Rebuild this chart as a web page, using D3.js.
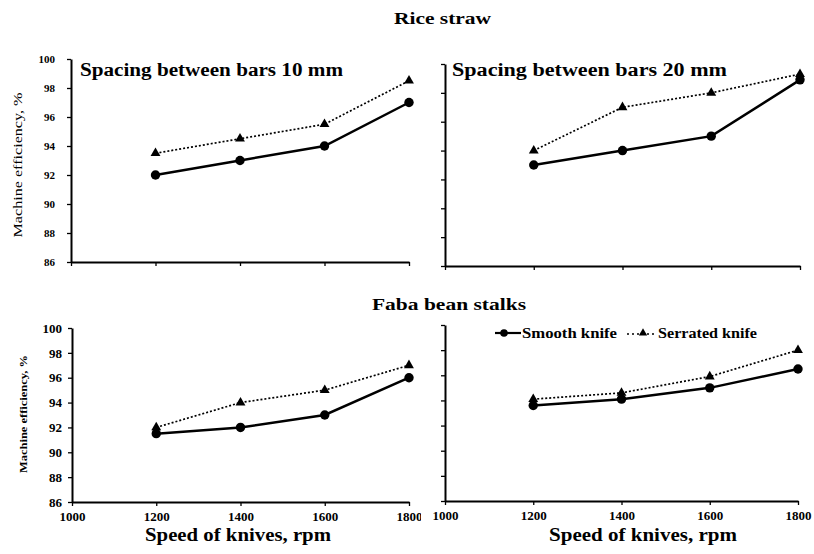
<!DOCTYPE html>
<html lang="en">
<head>
  <meta charset="utf-8">
  <title>Machine efficiency</title>
  <script src="https://d3js.org/d3.v7.min.js"></script>
  <style>
    body { margin: 0; background: white; }
    svg text { font-family: "Liberation Serif", "Times New Roman", serif; font-weight: bold; fill: black; }
  </style>
</head>
<body>
<div id="my_dataviz"></div>
<script>

// data
var speeds = [1200, 1400, 1600, 1800]
var xTicks = [1000, 1200, 1400, 1600, 1800]
var yTicks = [86, 88, 90, 92, 94, 96, 98, 100]
var seriesNames = ["Smooth knife", "Serrated knife"]

var riceSmooth10 = [92, 93, 94, 97]
var riceSerrated10 = [93.5, 94.5, 95.5, 98.5]
var riceSmooth20 = [93, 94, 95, 98.9]
var riceSerrated20 = [94, 97, 98, 99.3]

var fabaSmooth10 = [91.5, 92, 93, 96]
var fabaSerrated10 = [92, 94, 95, 97]
var fabaSmooth20 = [93.6, 94.1, 95, 96.5]
var fabaSerrated20 = [94.1, 94.6, 95.9, 98]

var width = 814
var height = 554

var svg = d3.select("#my_dataviz")
  .append("svg")
    .attr("width", width)
    .attr("height", height)

// clip for the left panels (their last tick label is cut by the right panel)
svg.append("clipPath").attr("id", "leftClip")
  .append("rect").attr("x", 0).attr("y", 0).attr("width", 421).attr("height", height)

// panel boxes: x0,x1 = 1000..1800 ; y0,y1 = 100..86
var panels = [
  { x0: 71, x1: 409, y0: 59, y1: 262, smooth: riceSmooth10, serr: riceSerrated10, title: "Spacing between bars 10 mm", titleX: 80, titleW: 263, yLabels: true, xLabels: false, left: true, tickFont: 11, labelX: -16 },
  { x0: 445, x1: 800, y0: 64, y1: 266, smooth: riceSmooth20, serr: riceSerrated20, title: "Spacing between bars 20 mm", titleX: 452, titleW: 275, yLabels: false, xLabels: false, left: false, tickFont: 11, labelX: -16 },
  { x0: 72, x1: 409, y0: 328, y1: 502, smooth: fabaSmooth10, serr: fabaSerrated10, title: null, yLabels: true, xLabels: true, left: true, tickFont: 13, labelX: -10 },
  { x0: 445, x1: 798, y0: 325, y1: 501, smooth: fabaSmooth20, serr: fabaSerrated20, title: null, yLabels: false, xLabels: true, left: false, tickFont: 13, labelX: -10 }
]

panels.forEach(function(p) {
  var x = d3.scaleLinear().domain([1000, 1800]).range([p.x0, p.x1])
  var y = d3.scaleLinear().domain([86, 100]).range([p.y1, p.y0])

  var g = svg.append("g")
  if (p.left) g.attr("clip-path", "url(#leftClip)")

  // x axis
  var xAxis = g.append("g")
    .attr("transform", "translate(0," + p.y1 + ")")
    .call(d3.axisBottom(x).tickValues(xTicks).tickSize(4).tickSizeOuter(0)
      .tickFormat(p.xLabels ? d3.format("d") : ""))
  xAxis.select(".domain").attr("stroke", "black").attr("stroke-width", 1.8)
  xAxis.selectAll("line").attr("stroke-width", 1.3)
  xAxis.selectAll("text").style("font-size", p.tickFont + "px").attr("dy", "0.95em")

  // y axis
  var yAxis = g.append("g")
    .attr("transform", "translate(" + p.x0 + ",0)")
    .call(d3.axisLeft(y).tickValues(yTicks).tickSize(4).tickSizeOuter(0)
      .tickFormat(p.yLabels ? d3.format("d") : ""))
  yAxis.select(".domain").attr("stroke", "black").attr("stroke-width", 2)
  yAxis.selectAll("line").attr("stroke-width", 1.3)
  yAxis.selectAll("text").style("font-size", p.tickFont + "px").attr("x", p.labelX)

  var line = d3.line()
    .x(function(d, i) { return x(speeds[i]) })
    .y(function(d) { return y(d) })

  // serrated knife (dotted, triangles)
  g.append("path")
    .datum(p.serr)
    .attr("fill", "none")
    .attr("stroke", "black")
    .attr("stroke-width", 1.7)
    .attr("stroke-dasharray", "2,2")
    .attr("d", line)
  g.selectAll(".tri")
    .data(p.serr)
    .enter()
    .append("path")
      .attr("d", d3.symbol().type(d3.symbolTriangle).size(42))
      .attr("transform", function(d, i) { return "translate(" + x(speeds[i]) + "," + y(d) + ")" })
      .attr("fill", "black")

  // smooth knife (solid, circles)
  g.append("path")
    .datum(p.smooth)
    .attr("fill", "none")
    .attr("stroke", "black")
    .attr("stroke-width", 2.5)
    .attr("d", line)
  g.selectAll(".dot")
    .data(p.smooth)
    .enter()
    .append("circle")
      .attr("cx", function(d, i) { return x(speeds[i]) })
      .attr("cy", function(d) { return y(d) })
      .attr("r", 4.7)
      .attr("fill", "black")

  if (p.title) {
    g.append("text")
      .attr("x", p.titleX)
      .attr("y", 76)
      .attr("textLength", p.titleW)
      .attr("lengthAdjust", "spacingAndGlyphs")
      .style("font-size", "18px")
      .text(p.title)
  }
})

// group titles
svg.append("text")
  .attr("x", 394).attr("y", 24)
  .attr("textLength", 97)
  .attr("lengthAdjust", "spacingAndGlyphs")
  .style("font-size", "17px")
  .text("Rice straw")
svg.append("text")
  .attr("x", 372).attr("y", 310)
  .attr("textLength", 154)
  .attr("lengthAdjust", "spacingAndGlyphs")
  .style("font-size", "17px")
  .text("Faba bean stalks")

// y axis titles
svg.append("text")
  .attr("transform", "translate(22,165) rotate(-90)")
  .attr("text-anchor", "middle")
  .attr("textLength", 145)
  .attr("lengthAdjust", "spacingAndGlyphs")
  .style("font-size", "12px")
  .style("font-weight", "normal")
  .text("Machine efficiency, %")
svg.append("text")
  .attr("transform", "translate(27,414) rotate(-90)")
  .attr("text-anchor", "middle")
  .attr("textLength", 118)
  .attr("lengthAdjust", "spacingAndGlyphs")
  .style("font-size", "11px")
  .text("Machine efficiency, %")

// x axis titles
svg.append("text")
  .attr("x", 145).attr("y", 541)
  .attr("textLength", 186)
  .attr("lengthAdjust", "spacingAndGlyphs")
  .style("font-size", "19px")
  .text("Speed of knives, rpm")
svg.append("text")
  .attr("x", 549).attr("y", 541)
  .attr("textLength", 188)
  .attr("lengthAdjust", "spacingAndGlyphs")
  .style("font-size", "19px")
  .text("Speed of knives, rpm")

// legend
var legend = svg.append("g")
legend.append("line")
  .attr("x1", 495).attr("x2", 521).attr("y1", 333).attr("y2", 333)
  .attr("stroke", "black").attr("stroke-width", 2.2)
legend.append("circle")
  .attr("cx", 504).attr("cy", 333).attr("r", 3.8).attr("fill", "black")
legend.append("text")
  .attr("x", 522).attr("y", 338)
  .attr("textLength", 95)
  .attr("lengthAdjust", "spacingAndGlyphs")
  .style("font-size", "14px")
  .text(seriesNames[0])
legend.append("line")
  .attr("x1", 627).attr("x2", 657).attr("y1", 334).attr("y2", 334)
  .attr("stroke", "black").attr("stroke-width", 1.5).attr("stroke-dasharray", "2,3")
legend.append("path")
  .attr("d", d3.symbol().type(d3.symbolTriangle).size(30))
  .attr("transform", "translate(643,333)")
  .attr("fill", "black")
legend.append("text")
  .attr("x", 658).attr("y", 338)
  .attr("textLength", 99)
  .attr("lengthAdjust", "spacingAndGlyphs")
  .style("font-size", "14px")
  .text(seriesNames[1])

</script>
</body>
</html>
